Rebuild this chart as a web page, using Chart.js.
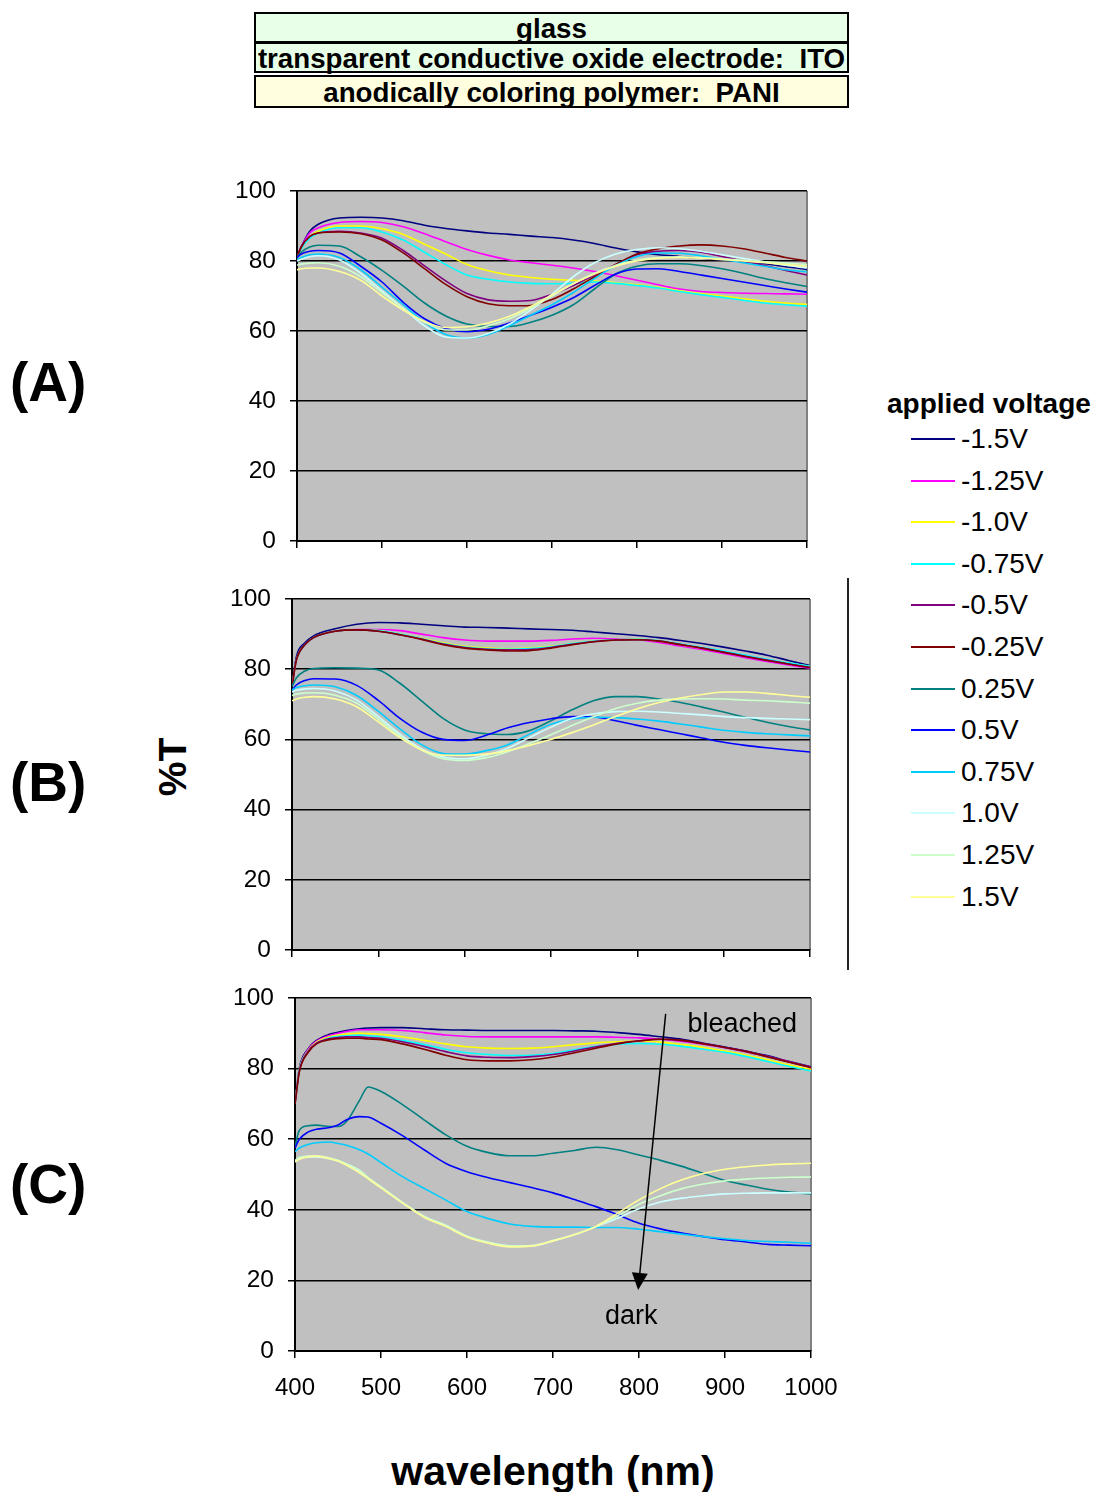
<!DOCTYPE html>
<html>
<head>
<meta charset="utf-8">
<script src="https://cdn.jsdelivr.net/npm/chart.js@4.4.0/dist/chart.umd.min.js"></script>
<style>
  body { margin: 0; background: #fff; font-family: "Liberation Sans", Arial, sans-serif; }
  #page { position: relative; width: 1094px; height: 1492px; overflow: hidden; }
  .box { position: absolute; left: 254px; width: 595px; box-sizing: border-box; border: 2px solid #000;
         text-align: center; font-weight: bold; font-size: 27.7px; white-space: pre; color: #000; }
  .panel { position: absolute; }
  .tag { position: absolute; left: 10px; font-weight: bold; font-size: 55px; line-height: 55px; }
  .leg-line { position: absolute; left: 911px; width: 44px; height: 2px; }
  .leg-text { position: absolute; left: 961px; font-size: 28px; line-height: 30px; }
</style>
</head>
<body>
<div id="page">
  <div class="box" style="top:12px;height:31px;line-height:29px;background:#e8ffe8;">glass</div>
  <div class="box" style="top:42px;height:31px;line-height:29px;background:#e8ffe8;">transparent conductive oxide electrode:  ITO</div>
  <div class="box" style="top:75px;height:33px;line-height:31px;background:#ffffe0;">anodically coloring polymer:  PANI</div>

  <div class="tag" style="top:355px;">(A)</div>
  <div class="tag" style="top:755px;">(B)</div>
  <div class="tag" style="top:1157px;">(C)</div>

  <div style="position:absolute;left:173px;top:767px;transform:translate(-50%,-50%) rotate(-90deg);font-weight:bold;font-size:39px;white-space:nowrap;">%T</div>
  <div style="position:absolute;left:553px;top:1471px;transform:translate(-50%,-50%);font-weight:bold;font-size:41px;white-space:nowrap;">wavelength (nm)</div>

  <div style="position:absolute;left:847px;top:578px;width:2px;height:392px;background:#222;"></div>
  <div id="legend"></div>

  <div class="panel" style="left:200px;top:171px;"><canvas id="chartA" width="630" height="389"></canvas></div>
  <div class="panel" style="left:195px;top:579px;"><canvas id="chartB" width="640" height="390"></canvas></div>
  <div class="panel" style="left:198px;top:978px;"><canvas id="chartC" width="650" height="433"></canvas></div>
</div>

<script>
const voltages = ["-1.5V", "-1.25V", "-1.0V", "-0.75V", "-0.5V", "-0.25V", "0.25V", "0.5V", "0.75V", "1.0V", "1.25V", "1.5V"];
const colors = ["#000080", "#ff00ff", "#ffff00", "#00ffff", "#800080", "#800000", "#008080", "#0000ff", "#00ccff", "#ccffff", "#ccffcc", "#ffff99"];

const wavelengthAB = [400, 405, 415, 425, 450, 475, 500, 525, 550, 575, 600, 625, 650, 675, 700, 725, 750, 775, 800, 825, 850, 875, 900, 925, 950, 975, 1000];
const wavelengthC = [400, 405, 415, 425, 440, 450, 460, 475, 485, 500, 525, 550, 575, 600, 625, 650, 675, 700, 725, 750, 775, 800, 825, 850, 875, 900, 925, 950, 975, 1000];

// (A) %T
const A_m150 = [81, 84, 88.5, 90.5, 92.3, 92.5, 92.3, 91.5, 90.2, 89.3, 88.6, 88, 87.6, 87.1, 86.7, 86, 85, 83.7, 82.6, 81.8, 81.3, 80.8, 80.3, 79.8, 79.2, 78.4, 77.6];
const A_m125 = [81, 84, 88, 89.5, 91, 91.3, 91, 89.8, 87.8, 85.5, 83.3, 81.6, 80.3, 79.5, 78.8, 78, 77, 75.8, 74.5, 73.2, 72, 71.3, 71, 70.8, 70.7, 70.6, 70.5];
const A_m100 = [81, 83.5, 87, 88.5, 90, 90, 89.2, 87.6, 84.8, 82, 79, 77.2, 76, 75.3, 74.8, 74.5, 74.3, 73.8, 73.2, 72.5, 71.5, 70.7, 70, 69.2, 68.5, 68, 67.6];
const A_m075 = [81, 83.5, 86.5, 88, 89.5, 89.5, 88.3, 86, 82.5, 79, 76, 74.8, 74, 73.6, 73.5, 73.6, 74, 73.6, 73, 72.3, 71.3, 70.4, 69.6, 68.8, 68, 67.5, 67.1];
const A_m050 = [81, 84, 87, 88, 88.5, 88, 86.5, 83, 78.6, 74.3, 70.7, 68.9, 68.5, 68.7, 70.5, 73, 76, 79, 81.8, 82.8, 83, 82.5, 81.3, 80, 78.7, 77.3, 76];
const A_m025 = [81, 84, 87, 88, 88.3, 87.8, 86, 82.3, 77.8, 73.3, 69.8, 67.8, 67.2, 67.3, 69, 72, 75.5, 79, 82, 83.5, 84.3, 84.6, 84.3, 83.5, 82.3, 81, 80];
const A_p025 = [81, 82.5, 84, 84.5, 84.3, 81.2, 77.3, 72.8, 68, 64.3, 62, 61.3, 61.3, 62.5, 64.5, 67.5, 72, 76.3, 78.5, 79.2, 79.2, 78.7, 77.8, 76.5, 75, 73.8, 72.7];
const A_p050 = [81, 82, 82.8, 83, 82.3, 78.5, 74, 68.2, 63.5, 60.7, 59.8, 60.5, 62.3, 64.5, 66.8, 69.5, 73, 76.3, 77.7, 77.8, 77, 76, 75, 74, 73, 72, 71.1];
const A_p075 = [80.5, 81, 81.8, 82, 81, 77.5, 72.5, 67.5, 62.5, 59, 58, 59, 61.5, 64.5, 67.5, 71, 75, 78.7, 81.3, 82.3, 82.2, 81.5, 80.5, 79.5, 78.5, 77.5, 76.9];
const A_p100 = [80, 80.5, 81.2, 81.5, 80.3, 76.5, 71.5, 66.5, 61.5, 58.3, 58, 59.3, 62, 66, 70.5, 75.5, 79.5, 82, 83.3, 83.8, 83.5, 82.8, 81.8, 80.8, 79.8, 78.8, 78];
const A_p125 = [78.8, 79.1, 79.4, 79.5, 78.5, 75.5, 71, 66.5, 62.5, 60.3, 60.3, 61.5, 63.5, 66.5, 70, 73.5, 76.5, 78.8, 80.3, 81, 81.2, 81, 80.6, 80.2, 79.8, 79.4, 79];
const A_p150 = [77.5, 77.8, 78, 78, 77, 74.5, 70, 66, 62.7, 61, 61.2, 62.3, 64.2, 67, 70.3, 73.5, 76.3, 78.5, 80, 80.8, 81, 80.8, 80.4, 80, 79.5, 79, 78.5];

// (B) %T
const B_m150 = [75, 83.5, 87.5, 89.5, 91.5, 92.8, 93.3, 93.2, 92.8, 92.4, 92, 91.9, 91.7, 91.5, 91.3, 91.1, 90.6, 90.1, 89.6, 89, 88.2, 87.3, 86.3, 85.2, 84, 82.5, 81];
const B_m125 = [75, 82.5, 87, 89, 90.8, 91.3, 91.3, 91, 90, 89, 88.3, 88, 88, 88, 88.2, 88.6, 88.8, 88.6, 88.4, 87.6, 86.6, 85.6, 84.5, 83.3, 82.2, 81.2, 80.3];
const B_m100 = [75, 82.5, 87, 89, 90.8, 91.2, 91, 90, 88.8, 87.5, 86.5, 86, 85.8, 86, 86.5, 87.3, 88, 88.4, 88.5, 88, 87, 86, 85, 83.8, 82.7, 81.7, 80.8];
const B_m075 = [75, 82.5, 87, 89, 90.8, 91.2, 91, 90, 88.7, 87.3, 86.3, 85.8, 85.7, 85.9, 86.4, 87.3, 88, 88.4, 88.5, 88.1, 87.2, 86.2, 85.2, 84, 82.8, 81.8, 80.8];
const B_m050 = [75, 82.5, 87, 89, 90.8, 91.2, 90.8, 89.8, 88.6, 87.2, 86.2, 85.7, 85.5, 85.6, 86.2, 87.1, 87.9, 88.3, 88.4, 88, 87, 86, 84.9, 83.7, 82.6, 81.5, 80.5];
const B_m025 = [75, 82.5, 87, 89, 90.8, 91.2, 90.8, 89.8, 88.5, 87, 86, 85.5, 85.2, 85.3, 86, 87, 87.8, 88.3, 88.4, 88, 87, 86, 84.8, 83.6, 82.5, 81.5, 80.5];
const B_p025 = [75, 77.5, 79.5, 80.2, 80.4, 80.3, 79.8, 76, 71, 66, 62.7, 61.6, 61.4, 62.5, 65.3, 68.5, 71.1, 72.2, 72.2, 71.5, 70.5, 69.2, 67.8, 66.3, 64.9, 63.7, 62.7];
const B_p050 = [74, 75.5, 76.8, 77.3, 77.2, 75.4, 71.1, 66, 62.1, 60, 59.7, 61.2, 63.3, 64.8, 65.9, 66.5, 66.4, 65.3, 64, 62.8, 61.6, 60.4, 59.2, 58.3, 57.6, 57, 56.4];
const B_p075 = [74, 74.8, 75.3, 75.5, 75, 72.5, 68, 63, 58.5, 56, 55.8, 56.8, 58.5, 61.5, 64.3, 65.8, 66.3, 66.2, 65.8, 65.2, 64.4, 63.5, 62.6, 62, 61.6, 61.3, 61];
const B_p100 = [73.5, 74, 74.4, 74.5, 73.8, 71.2, 66.5, 61.5, 57.3, 55, 54.5, 55.5, 57.5, 60.5, 63.5, 66, 67.3, 67.9, 68, 67.8, 67.4, 67, 66.5, 66.2, 66, 65.8, 65.6];
const B_p125 = [72.5, 72.9, 73.2, 73.3, 72.6, 70.3, 65.8, 61, 57, 54.5, 54, 54.8, 56.5, 58.8, 61.3, 64, 66.5, 68.8, 70.3, 71.2, 71.5, 71.6, 71.5, 71.2, 71, 70.7, 70.3];
const B_p150 = [71, 71.5, 72, 72.2, 71.5, 69.3, 65, 60.5, 57, 55.5, 55.5, 55.8, 56.8, 58.3, 60, 62, 64.2, 66.5, 68.7, 70.5, 71.8, 72.8, 73.5, 73.5, 73.1, 72.5, 72];

// (C) %T
const C_m150 = [70, 80, 85.5, 88, 89.7, 90.3, 90.8, 91.3, 91.5, 91.6, 91.6, 91.3, 91, 90.9, 90.8, 90.8, 90.8, 90.8, 90.7, 90.6, 90.2, 89.7, 89, 88.3, 87.2, 86.1, 84.9, 83.6, 82, 80.5];
const C_m125 = [70, 79.5, 85.3, 87.8, 89.4, 90, 90.5, 91, 91, 91, 90.8, 90.2, 89.5, 89.1, 89, 89, 89, 89, 89, 89, 88.9, 88.7, 88.3, 87.7, 86.9, 85.9, 84.7, 83.4, 81.9, 80.3];
const C_m100 = [70, 79.5, 85, 87.5, 89, 89.5, 89.8, 90, 89.9, 89.7, 89, 88, 87, 86.2, 85.8, 85.7, 85.8, 86.2, 86.8, 87.3, 87.6, 87.8, 87.5, 86.8, 86, 85, 83.8, 82.5, 81, 79.8];
const C_m075 = [70, 79.5, 84.8, 87.2, 88.7, 89.1, 89.3, 89.4, 89.3, 89, 88, 86.8, 85.5, 84.5, 84, 83.7, 83.8, 84.3, 85.3, 86.3, 86.9, 87.1, 86.9, 86.3, 85.5, 84.6, 83.4, 82, 80.6, 79.3];
const C_m050 = [70, 79.3, 84.8, 87.2, 88.5, 88.8, 89, 89, 88.8, 88.6, 87.6, 86.3, 84.8, 83.6, 83.2, 83.1, 83.4, 84, 85, 86.2, 87.2, 87.9, 88.3, 88, 87.1, 86, 84.9, 83.4, 81.9, 80.4];
const C_m025 = [70, 79, 84.5, 87, 88.2, 88.5, 88.6, 88.6, 88.4, 88.2, 87, 85.5, 83.8, 82.5, 82.2, 82.2, 82.5, 83.3, 84.5, 85.8, 87, 87.8, 88.3, 88, 87, 86, 84.8, 83.3, 81.8, 80.3];
const C_p025 = [58, 62.5, 63.8, 64, 63.6, 63.6, 65, 71, 74.8, 73.5, 69.8, 65.5, 61.3, 58, 56.2, 55.3, 55.3, 56, 56.8, 57.7, 57, 55.5, 54, 52.3, 50.3, 48.3, 47, 45.8, 45, 44.5];
const C_p050 = [57.5, 60, 62, 62.8, 63.3, 64, 65.5, 66.4, 66.3, 64.5, 61, 57, 53.2, 50.8, 49.1, 47.7, 46.3, 44.8, 42.9, 40.9, 38.6, 36.2, 34.6, 33.4, 32.4, 31.5, 30.9, 30.2, 30, 29.8];
const C_p075 = [56.5, 57.5, 58.5, 59, 59.2, 58.8, 58.3, 57, 55.8, 53.4, 49.4, 46.1, 42.8, 39.5, 37.5, 36, 35.3, 35.1, 35.1, 35, 35, 34.5, 33.8, 33.1, 32.4, 31.8, 31.3, 31, 30.8, 30.5];
const C_p100 = [53.8, 54.5, 55, 55, 54.5, 53.8, 52.9, 51, 49, 46.4, 42, 38.1, 35.6, 32.5, 30.7, 29.8, 29.8, 31.2, 33, 35.2, 37.6, 40.3, 42.2, 43.3, 44, 44.5, 44.7, 44.8, 44.8, 44.8];
const C_p125 = [54, 54.8, 55.2, 55.3, 54.7, 54, 53, 51.2, 49.1, 46.5, 42.1, 38.2, 35.6, 32.5, 30.8, 29.8, 29.9, 31.3, 33, 35.3, 38.3, 41.6, 44, 46, 47.3, 48.2, 48.7, 49, 49.2, 49.3];
const C_p150 = [53.5, 54.3, 55, 55.2, 54.5, 53.8, 52.6, 50.5, 48.8, 46.2, 41.9, 37.9, 35.3, 32.3, 30.5, 29.5, 29.7, 31.2, 32.9, 35.3, 39, 42.8, 46, 48.5, 50.3, 51.5, 52.2, 52.7, 53, 53.2];

const panelA = [A_m150, A_m125, A_m100, A_m075, A_m050, A_m025, A_p025, A_p050, A_p075, A_p100, A_p125, A_p150];
const panelB = [B_m150, B_m125, B_m100, B_m075, B_m050, B_m025, B_p025, B_p050, B_p075, B_p100, B_p125, B_p150];
const panelC = [C_m150, C_m125, C_m100, C_m075, C_m050, C_m025, C_p025, C_p050, C_p075, C_p100, C_p125, C_p150];

// arrow in (C): [wavelength, %T]
const arrowFrom = [831, 95.5];
const arrowTo = [799, 17.3];
const noteBleached = { text: "bleached", x: 920, y: 92.4 };
const noteDark = { text: "dark", x: 791, y: 9.9 };

Chart.defaults.font.family = '"Liberation Sans", Arial, sans-serif';
Chart.defaults.color = "#000";

// legend
const legend = document.getElementById("legend");
let html = '<div style="position:absolute;left:887px;top:389px;font-weight:bold;font-size:28px;line-height:30px;white-space:nowrap;">applied voltage</div>';
voltages.forEach(function (v, i) {
  const cy = 439 + i * 41.6;
  html += '<div class="leg-line" style="top:' + (cy - 1) + 'px;background:' + colors[i] + ';"></div>';
  html += '<div class="leg-text" style="top:' + (cy - 15) + 'px;">' + v + '</div>';
});
legend.innerHTML = html;

/*grey plot area and right edge*/
const plotBg = {
  id: "plotBg",
  beforeDraw(chart) {
    const a = chart.chartArea, ctx = chart.ctx;
    ctx.save();
    ctx.fillStyle = "#c0c0c0";
    ctx.fillRect(a.left, a.top, a.right - a.left, a.bottom - a.top);
    ctx.strokeStyle = "#808080";
    ctx.lineWidth = 2;
    ctx.beginPath();
    ctx.moveTo(a.right, a.top);
    ctx.lineTo(a.right, a.bottom);
    ctx.stroke();
    ctx.restore();
  }
};

const arrowNote = {
  id: "arrowNote",
  afterDatasetsDraw(chart) {
    const x = chart.scales.x, y = chart.scales.y, ctx = chart.ctx;
    const x0 = x.getPixelForValue(arrowFrom[0]), y0 = y.getPixelForValue(arrowFrom[1]);
    const x1 = x.getPixelForValue(arrowTo[0]), y1 = y.getPixelForValue(arrowTo[1]);
    const ang = Math.atan2(y1 - y0, x1 - x0);
    const head = 17, half = 8;
    const bx = x1 - head * Math.cos(ang), by = y1 - head * Math.sin(ang);
    ctx.save();
    ctx.strokeStyle = "#000";
    ctx.lineWidth = 1.5;
    ctx.beginPath();
    ctx.moveTo(x0, y0);
    ctx.lineTo(bx, by);
    ctx.stroke();
    ctx.fillStyle = "#000";
    ctx.beginPath();
    ctx.moveTo(x1, y1);
    ctx.lineTo(bx + half * Math.sin(ang), by - half * Math.cos(ang));
    ctx.lineTo(bx - half * Math.sin(ang), by + half * Math.cos(ang));
    ctx.closePath();
    ctx.fill();
    ctx.font = '27px "Liberation Sans", Arial, sans-serif';
    ctx.textAlign = "center";
    ctx.textBaseline = "middle";
    [noteBleached, noteDark].forEach(function (n) {
      ctx.fillText(n.text, x.getPixelForValue(n.x), y.getPixelForValue(n.y));
    });
    ctx.restore();
  }
};

function makePanel(id, wave, series, showX, axisH, padRight, extra) {
  const datasets = series.map(function (vals, i) {
    return {
      label: voltages[i],
      data: vals.map(function (v, k) { return { x: wave[k], y: v }; }),
      borderColor: colors[i],
      borderWidth: 1.6,
      pointRadius: 0,
      fill: false,
      cubicInterpolationMode: "monotone",
      order: series.length - i
    };
  });
  return new Chart(document.getElementById(id), {
    type: "line",
    data: { datasets: datasets },
    plugins: [plotBg].concat(extra || []),
    options: {
      responsive: false,
      animation: false,
      layout: { padding: { top: 20, right: padRight, left: 0, bottom: 0 } },
      plugins: { legend: { display: false }, tooltip: { enabled: false } },
      scales: {
        x: {
          type: "linear",
          min: 400,
          max: 1000,
          ticks: {
            stepSize: 100, display: showX, font: { size: 24 }, padding: 16, maxRotation: 0,
            callback: function (v) { return String(v); }
          },
          grid: { drawOnChartArea: false, color: "#000", lineWidth: 1.5, tickLength: 7 },
          border: { color: "#000", width: 2 },
          afterFit: function (s) { s.height = axisH; s.paddingLeft = 0; s.paddingRight = 0; }
        },
        y: {
          min: 0,
          max: 100,
          ticks: { stepSize: 20, font: { size: 24.5 }, padding: 14 },
          grid: { color: "#000", lineWidth: 1.5, tickLength: 7 },
          border: { color: "#000", width: 2 },
          afterFit: function (s) { s.width = 97; s.paddingTop = 0; s.paddingBottom = 0; }
        }
      }
    }
  });
}

makePanel("chartA", wavelengthAB, panelA, false, 19, 23);
makePanel("chartB", wavelengthAB, panelB, false, 19, 25);
makePanel("chartC", wavelengthC, panelC, true, 60, 37, [arrowNote]);
</script>
</body>
</html>
